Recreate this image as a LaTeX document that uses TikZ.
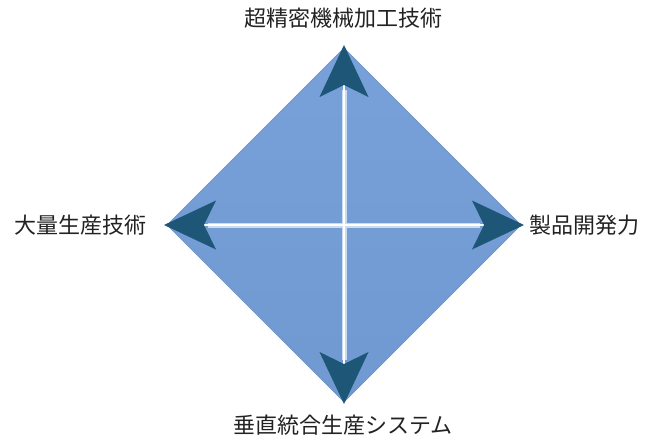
\documentclass[tikz,border=0pt]{standalone}
\usepackage{fontspec}
\newfontfamily\jpfont{Noto Sans CJK JP}
\usetikzlibrary{arrows.meta}
\definecolor{fillblue}{HTML}{77A1D8}
\definecolor{fillblueB}{HTML}{7099D1}
\definecolor{edgeblue}{HTML}{6A8FC4}
\definecolor{arrowblue}{HTML}{1E5677}
\definecolor{glow}{HTML}{C9DCF2}
\definecolor{txt}{HTML}{222222}
\tikzset{
  lbl/.style={font=\jpfont\fontsize{22}{26}\selectfont, text=txt, inner sep=0pt},
  axis/.style={white, line width=2.4pt,
    -{Stealth[length=52pt,width=49pt,inset=12pt,color=arrowblue,line width=0pt]}},
  axisglow/.style={glow, line width=5pt},
}
\begin{document}
\begin{tikzpicture}[x=1pt,y=-1pt]
\useasboundingbox (0,0) rectangle (663,441);
\coordinate (c) at (344,225);
\coordinate (t) at (344,45);
\coordinate (b) at (344,404);
\coordinate (l) at (164,225);
\coordinate (r) at (524,225);
% diamond
\shade[top color=fillblue, bottom color=fillblueB, draw=edgeblue, line width=0.6pt]
  (344,48) -- (521,225) -- (344,402) -- (167,225) -- cycle;
% glow under lines
\draw[axisglow] (344,90) -- (344,360);
\draw[axisglow] (208,225) -- (480,225);
% axes with arrowheads
\draw[axis] (c) -- (t);
\draw[axis] (c) -- (b);
\draw[axis] (c) -- (l);
\draw[axis] (c) -- (r);
% labels
\node[lbl] (ntop) at (343,18) {超精密機械加工技術};
\node[lbl] (nbot) at (343,425) {垂直統合生産システム};
\node[lbl, anchor=east] (nleft) at (147,225) {大量生産技術};
\node[lbl, anchor=west] (nright) at (529,225) {製品開発力};
\end{tikzpicture}
\end{document}
